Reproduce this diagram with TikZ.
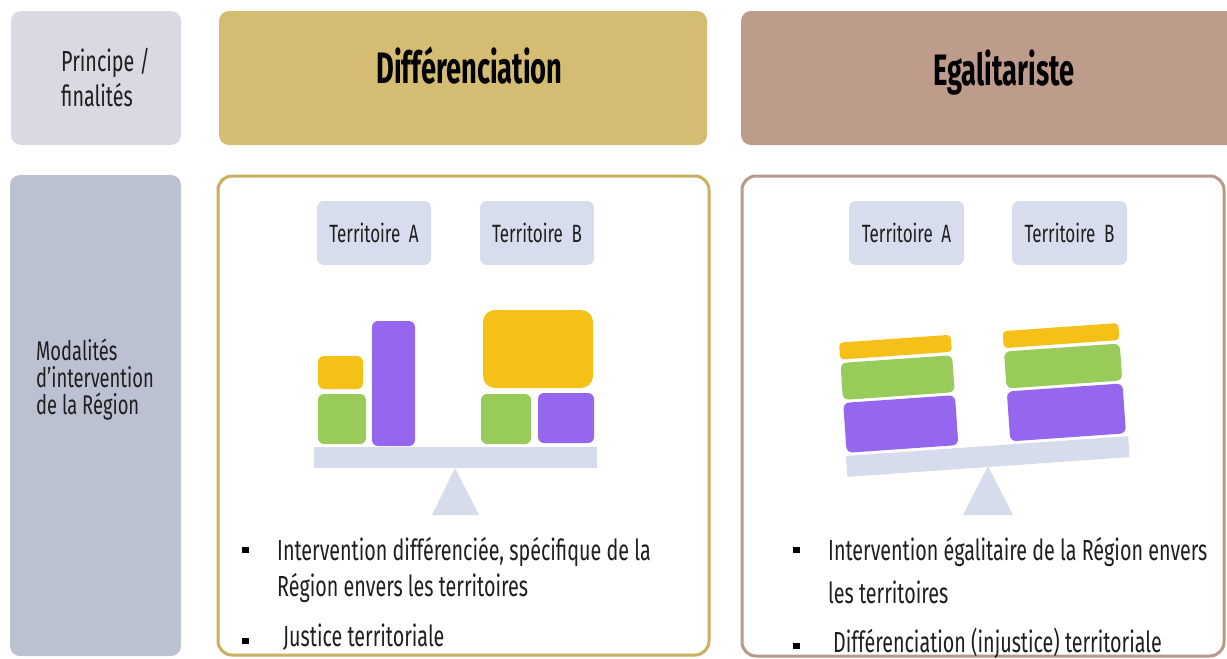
\documentclass[tikz,border=0pt]{standalone}
\usepackage{fontspec}
\setmainfont{Fira Sans}[FakeStretch=0.68]
\newfontfamily\titlefont{Fira Sans}[FakeStretch=0.62]
\definecolor{cLav}{HTML}{D9D9E4}
\definecolor{cDif}{HTML}{D4BC73}
\definecolor{cEga}{HTML}{BD9C8B}
\definecolor{cMod}{HTML}{BCC1D1}
\definecolor{cGold}{HTML}{C9AF5E}
\definecolor{cBrown}{HTML}{B9998A}
\definecolor{cTer}{HTML}{D8DDED}
\definecolor{cY}{HTML}{F5C118}
\definecolor{cG}{HTML}{99CB5B}
\definecolor{cP}{HTML}{9566EE}
\definecolor{cBeam}{HTML}{D6DCEC}
\definecolor{cTxt}{HTML}{1E1E1E}
\begin{document}
\begin{tikzpicture}[x=1pt,y=-1pt,
  box/.style={rectangle, rounded corners=10pt, inner sep=0pt},
  panel/.style={rectangle, rounded corners=14pt, inner sep=0pt, fill=white, line width=3pt},
  terr/.style={rectangle, rounded corners=7pt, fill=cTer, minimum width=114pt, minimum height=64pt, inner sep=0pt, text=cTxt, font=\fontsize{25}{28}\selectfont},
  bar/.style={rectangle, rounded corners=6pt, inner sep=0pt},
  beam/.style={rectangle, fill=cBeam, inner sep=0pt, minimum width=283pt, minimum height=21pt},
  txt/.style={inner sep=0pt, text=cTxt, font=\fontsize{29}{32}\selectfont},
  smalltxt/.style={inner sep=0pt, text=cTxt, font=\fontsize{27}{30}\selectfont},
  pftxt/.style={inner sep=0pt, text=cTxt, font=\fontsize{29}{32}\selectfont},
  title/.style={inner sep=0pt, text=black, font=\titlefont\bfseries\fontsize{44}{48}\selectfont},
  bulletsq/.style={rectangle, fill=black, minimum width=7pt, minimum height=6pt, inner sep=0pt}
]
\useasboundingbox (0,0) rectangle (1227,659);
\clip (0,0) rectangle (1227,659);
\fill[white] (0,0) rectangle (1227,659);

% header row
\node[box, fill=cLav, minimum width=170pt, minimum height=134pt] (pf) at (96,78) {};
\node[box, fill=cDif, minimum width=488pt, minimum height=134pt] (dif) at (463,78) {};
\node[box, fill=cEga, minimum width=521pt, minimum height=134pt] (ega) at (1001.5,78) {};
\node[pftxt, anchor=base west] (pf1) at (61,71) {Principe /};
\node[pftxt, anchor=base west] (pf2) at (61,106) {finalités};
\node[title, anchor=base] (tdif) at (469.5,83) {Différenciation};
\node[title, anchor=base] (tega) at (1004,85) {Egalitariste};

% lower row
\node[box, fill=cMod, minimum width=171pt, minimum height=481pt] (mod) at (95.5,415.5) {};
\node[smalltxt, anchor=base west] (m1) at (36,360) {Modalités};
\node[smalltxt, anchor=base west] (m2) at (36,387) {d’intervention};
\node[smalltxt, anchor=base west] (m3) at (36,414) {de la Région};

\node[panel, draw=cGold, minimum width=491pt, minimum height=479pt] (pdif) at (463.5,415.5) {};
\node[panel, draw=cBrown, minimum width=482pt, minimum height=480pt] (pega) at (983,416) {};

% left panel
\node[terr] (ta1) at (374,233) {Territoire\, A};
\node[terr] (tb1) at (537,233) {Territoire\, B};
\node[bar, fill=cY, minimum width=45pt, minimum height=33pt] (ya1) at (340.5,372.5) {};
\node[bar, fill=cG, minimum width=48pt, minimum height=50pt] (ga1) at (342,419) {};
\node[bar, fill=cP, minimum width=43pt, minimum height=125pt] (pa1) at (393.5,383.5) {};
\node[bar, rounded corners=12pt, fill=cY, minimum width=110pt, minimum height=78pt] (yb1) at (538,349) {};
\node[bar, fill=cG, minimum width=50pt, minimum height=50pt] (gb1) at (506,419) {};
\node[bar, fill=cP, minimum width=56pt, minimum height=50pt] (pb1) at (566,418) {};
\node[beam] (beam1) at (455.5,457.5) {};
\fill[cBeam] (455,468) -- (479,515) -- (432,515) -- cycle;

\node[bulletsq] (b11) at (245,550) {};
\node[txt, anchor=base west] (t11) at (277,560) {Intervention différenciée, spécifique de la};
\node[txt, anchor=base west] (t12) at (277,596) {Région envers les territoires};
\node[bulletsq] (b12) at (245,641) {};
\node[txt, anchor=base west] (t13) at (283,646) {Justice territoriale};

% right panel
\node[terr, minimum width=115pt] (ta2) at (906.5,233) {Territoire\, A};
\node[terr, minimum width=115pt] (tb2) at (1069.5,233) {Territoire\, B};
\begin{scope}[rotate around={4:(988,467)}, transform shape]
  \node[bar, fill=cP, minimum width=112pt, minimum height=50pt] (pa2) at (904,418) {};
  \node[bar, fill=cG, minimum width=112pt, minimum height=37pt] (ga2) at (904,371.5) {};
  \node[bar, rounded corners=4pt, fill=cY, minimum width=112pt, minimum height=17pt] (ya2) at (904,341) {};
  \node[bar, fill=cP, minimum width=116pt, minimum height=50pt] (pb2) at (1070,418) {};
  \node[bar, fill=cG, minimum width=116pt, minimum height=37pt] (gb2) at (1070,371.5) {};
  \node[bar, rounded corners=4pt, fill=cY, minimum width=116pt, minimum height=17pt] (yb2) at (1070,341) {};
  \node[beam] (beam2) at (988.5,456.5) {};
\end{scope}
\fill[cBeam] (988,466) -- (1013,515) -- (963,515) -- cycle;

\node[bulletsq] (b21) at (796,550) {};
\node[txt, anchor=base west] (t21) at (828,560) {Intervention égalitaire de la Région envers};
\node[txt, anchor=base west] (t22) at (828,603) {les territoires};
\node[bulletsq] (b22) at (796,646) {};
\node[txt, anchor=base west] (t23) at (833,652) {Différenciation (injustice) territoriale};
\end{tikzpicture}
\end{document}
